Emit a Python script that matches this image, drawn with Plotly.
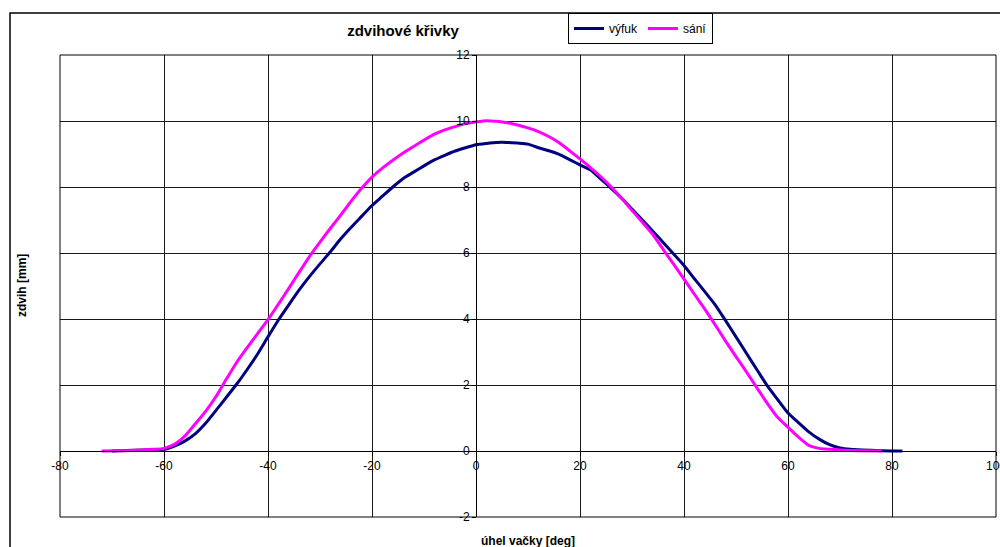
import plotly.graph_objects as go

# výfuk (exhaust) lift curve
vyfuk_x = [-70, -66, -62, -60, -58, -56, -54, -52, -50, -48, -46, -44, -42, -40,
           -38, -36, -34, -32, -30, -28, -26, -24, -22, -20, -18, -16, -14, -12,
           -10, -8, -6, -4, -2, 0, 2, 4, 6, 8, 10, 12, 14, 16, 18, 20, 22, 24,
           26, 28, 30, 32, 34, 36, 38, 40, 42, 44, 46, 48, 50, 52, 54, 56, 58,
           60, 62, 64, 66, 68, 70, 72, 76, 80, 82]
vyfuk_y = [0.0, 0.02, 0.04, 0.05, 0.15, 0.3, 0.52, 0.84, 1.23, 1.63, 2.03, 2.47,
           2.94, 3.46, 3.97, 4.43, 4.88, 5.29, 5.67, 6.04, 6.43, 6.78, 7.11, 7.44,
           7.72, 8.0, 8.26, 8.45, 8.64, 8.82, 8.96, 9.09, 9.19, 9.28, 9.32, 9.35,
           9.35, 9.33, 9.3, 9.19, 9.1, 8.99, 8.83, 8.67, 8.52, 8.24, 7.96, 7.66,
           7.33, 7.0, 6.66, 6.32, 5.97, 5.62, 5.22, 4.83, 4.43, 3.95, 3.46, 2.96,
           2.47, 1.98, 1.56, 1.15, 0.86, 0.58, 0.36, 0.19, 0.09, 0.05, 0.02, 0.0, 0.0]

# sání (intake) lift curve
sani_x = [-72, -68, -64, -62, -60, -58, -56, -54, -52, -50, -48, -46, -44, -42,
          -40, -38, -36, -34, -32, -30, -28, -26, -24, -22, -20, -18, -16, -14,
          -12, -10, -8, -6, -4, -2, 0, 2, 4, 6, 8, 10, 12, 14, 16, 18, 20, 22,
          24, 26, 28, 30, 32, 34, 36, 38, 40, 42, 44, 46, 48, 50, 52, 54, 56,
          58, 60, 62, 64, 66, 68, 70, 74, 78]
sani_y = [0.0, 0.01, 0.03, 0.05, 0.08, 0.2, 0.45, 0.82, 1.2, 1.65, 2.18, 2.69,
          3.13, 3.56, 3.98, 4.45, 4.93, 5.42, 5.9, 6.33, 6.75, 7.15, 7.57, 7.96,
          8.3, 8.57, 8.81, 9.03, 9.23, 9.42, 9.6, 9.73, 9.83, 9.92, 9.97, 10.01,
          9.99, 9.95, 9.88, 9.79, 9.68, 9.53, 9.34, 9.1, 8.85, 8.59, 8.31, 8.0,
          7.66, 7.29, 6.93, 6.56, 6.11, 5.66, 5.21, 4.75, 4.3, 3.82, 3.33, 2.86,
          2.4, 1.92, 1.45, 1.02, 0.72, 0.42, 0.17, 0.08, 0.05, 0.03, 0.01, 0.0]

x_ticks = [-80, -60, -40, -20, 0, 20, 40, 60, 80, 100]
y_ticks = [-2, 0, 2, 4, 6, 8, 10, 12]

FONT = "Liberation Sans, Arial, sans-serif"

fig = go.Figure()
fig.add_trace(go.Scatter(x=vyfuk_x, y=vyfuk_y, mode="lines", name="výfuk",
                         line=dict(color="#000080", width=3, shape="spline", smoothing=0.6)))
fig.add_trace(go.Scatter(x=sani_x, y=sani_y, mode="lines", name="sání",
                         line=dict(color="#FF00FF", width=3, shape="spline", smoothing=0.6)))

fig.update_layout(
    width=1000, height=547,
    margin=dict(l=60, r=4, t=55, b=30, autoexpand=False),
    paper_bgcolor="white", plot_bgcolor="white",
    font=dict(family=FONT, size=12, color="black"),
    showlegend=True,
    legend=dict(orientation="h", x=0.5427, xanchor="left", y=1.0909, yanchor="top",
                bordercolor="black", borderwidth=1, bgcolor="white",
                font=dict(size=12), itemwidth=30, tracegroupgap=0),
    xaxis=dict(range=[-80, 100], tickvals=x_ticks, ticktext=[str(v) for v in x_ticks],
               showgrid=True, gridcolor="#1a1a1a", gridwidth=1, zeroline=False,
               showline=True, linecolor="black", linewidth=1,
               anchor="free", position=(0 - (-2)) / 14, automargin=False,
               ticks="outside", ticklen=4, tickcolor="black",
               ticklabeloverflow="allow"),
    yaxis=dict(range=[-2, 12], tickvals=y_ticks, ticktext=[str(v) for v in y_ticks],
               showgrid=True, gridcolor="#1a1a1a", gridwidth=1, zeroline=False,
               showline=True, linecolor="black", linewidth=1,
               anchor="free", position=(0 - (-80)) / 180, automargin=False,
               ticks="outside", ticklen=4, tickcolor="black",
               ticklabeloverflow="allow"),
    title=dict(text="<b>zdvihové křivky</b>", x=(403 - 60) / 936, xref="paper",
               xanchor="center", y=1 - 31 / 547, yref="container", yanchor="middle",
               font=dict(size=15, family=FONT)),
)

# plot-area border and outer chart border
fig.add_shape(type="rect", xref="paper", yref="paper", x0=0, x1=1, y0=0, y1=1,
              line=dict(color="black", width=1), layer="above")
fig.add_shape(type="rect", xref="paper", yref="paper",
              x0=(10 - 60) / 936, x1=1.2, y0=-0.3, y1=1 + (55 - 13) / 462,
              line=dict(color="black", width=1.5), layer="above")

# axis titles
fig.add_annotation(text="<b>zdvih [mm]</b>", xref="paper", yref="paper",
                   x=(22 - 60) / 936, y=0.5, textangle=-90, showarrow=False,
                   xanchor="center", yanchor="middle", font=dict(size=12, family=FONT))
fig.add_annotation(text="<b>úhel vačky [deg]</b>", xref="paper", yref="paper",
                   x=0.5, y=(517 - 541) / 462, showarrow=False,
                   xanchor="center", yanchor="middle", font=dict(size=12, family=FONT))

fig.write_html("out.html")
